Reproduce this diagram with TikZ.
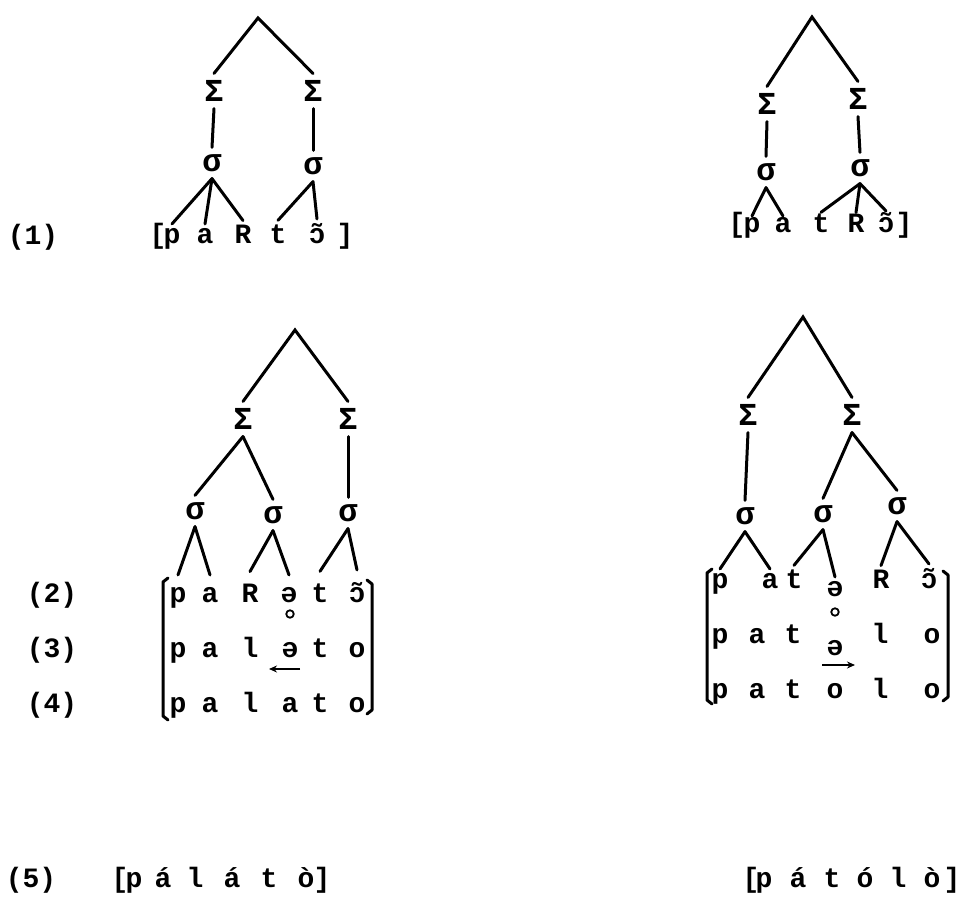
\documentclass[tikz,border=0pt]{standalone}
\usepackage{fontspec}
\usetikzlibrary{arrows.meta}
\newfontfamily\tw{Liberation Mono}
% nasal vowel: a spacing-tilde stacked over the letter (same advance in a mono font)
\newcommand\nasal[1]{\rlap{˜}#1}
\tikzset{
  ph/.style={font=\tw\bfseries\fontsize{28}{32}\selectfont, inner sep=0pt, anchor=base, outer sep=#1},
  ph/.default=8pt,
  pros/.style={font=\tw\bfseries\fontsize{32}{36}\selectfont, inner sep=0pt, outer sep=7pt},
  edge/.style={line width=3pt, line cap=round},
  brk/.style={line width=3pt, line cap=round, line join=round},
  ring/.style={circle, draw, line width=1.8pt, minimum size=7.5pt, inner sep=0pt},
  movearrow/.style={line width=1.8pt, -{Stealth[length=8pt,width=7pt]}}
}
\begin{document}
\begin{tikzpicture}[x=1pt,y=-1pt]
\useasboundingbox (0,0) rectangle (962,899);

% ---------- (1) left: p a R t on ----------
\coordinate (a0) at (258,18);
\node[pros] (aS1) at (214,91) {Σ};
\node[pros] (aS2) at (313,91) {Σ};
\node[pros] (as1) at (212,163) {σ};
\node[pros] (as2) at (313,166) {σ};
\node[ph] (l1) at (33,244) {(1)};
\node[ph=4pt] (aLB) at (158,243) {[};
\node[ph=4pt] (ap) at (172,243) {p};
\node[ph=4pt] (aa) at (205,243) {a};
\node[ph=4pt] (aR) at (243,243) {R};
\node[ph=4pt] (at) at (278,243) {t};
\node[ph=4pt] (ao) at (317,243) {\nasal{ɔ}};
\node[ph=4pt] (aRB) at (345,243) {]};
\draw[edge] (aS1.north) -- (a0) -- (aS2.north);
\draw[edge] (aS1.south) -- (as1.north);
\draw[edge] (aS2.south) -- (as2.north);
\draw[edge] (as1.south) -- (ap.north);
\draw[edge] (as1.south) -- (aa.north);
\draw[edge] (as1.south) -- (aR.north);
\draw[edge] (as2.south) -- (at.north);
\draw[edge] (as2.south) -- (ao.north);

% ---------- (1) right: p a t R on ----------
\coordinate (b0) at (812,17);
\node[pros] (bS1) at (767,104) {Σ};
\node[pros] (bS2) at (858,99) {Σ};
\node[pros] (bs1) at (766,172) {σ};
\node[pros] (bs2) at (860,168) {σ};
\node[ph=1pt] (bLB) at (737,232) {[};
\node[ph=1pt] (bp) at (752,232) {p};
\node[ph=1pt] (ba) at (783,232) {a};
\node[ph=1pt] (bt) at (821,232) {t};
\node[ph=1pt] (bR) at (856,232) {R};
\node[ph=1pt] (bo) at (886,232) {\nasal{ɔ}};
\node[ph=1pt] (bRB) at (904,232) {]};
\draw[edge] (bS1.north) -- (b0) -- (bS2.north);
\draw[edge] (bS1.south) -- (bs1.north);
\draw[edge] (bS2.south) -- (bs2.north);
\draw[edge] (bs1.south) -- (bp.north);
\draw[edge] (bs1.south) -- (ba.north);
\draw[edge] (bs2.south) -- (bt.north);
\draw[edge] (bs2.south) -- (bR.north);
\draw[edge] (bs2.south) -- (bo.north);

% ---------- (2)-(4) left ----------
\coordinate (c0) at (295,330);
\node[pros] (cS1) at (243,419) {Σ};
\node[pros] (cS2) at (348,419) {Σ};
\node[pros] (cs1) at (195,511) {σ};
\node[pros] (cs2) at (273,515) {σ};
\node[pros] (cs3) at (348,513) {σ};
\node[ph] (l2) at (52,602) {(2)};
\node[ph] (l3) at (52,657) {(3)};
\node[ph] (l4) at (52,712) {(4)};
\node[ph=12pt] (c2p) at (178,602) {p};
\node[ph=12pt] (c2a) at (210,602) {a};
\node[ph=12pt] (c2R) at (250,602) {R};
\node[ph=12pt] (c2e) at (289,602) {ə};
\node[ph=12pt] (c2t) at (320,602) {t};
\node[ph=12pt] (c2o) at (357,602) {\nasal{ɔ}};
\node[ring] (c2r) at (290,614) {};
\node[ph] (c3p) at (178,657) {p};
\node[ph] (c3a) at (210,657) {a};
\node[ph] (c3l) at (250,657) {l};
\node[ph] (c3e) at (290,657) {ə};
\node[ph] (c3t) at (320,657) {t};
\node[ph] (c3o) at (357,657) {o};
\coordinate (c3x) at (300,669);
\coordinate (c3y) at (269,669);
\node[ph] (c4p) at (178,712) {p};
\node[ph] (c4a) at (210,712) {a};
\node[ph] (c4l) at (250,712) {l};
\node[ph] (c4b) at (290,712) {a};
\node[ph] (c4t) at (320,712) {t};
\node[ph] (c4o) at (357,712) {o};
\draw[edge] (cS1.north) -- (c0) -- (cS2.north);
\draw[edge] (cS1.south) -- (cs1.north);
\draw[edge] (cS1.south) -- (cs2.north);
\draw[edge] (cS2.south) -- (cs3.north);
\draw[edge] (cs1.south) -- (c2p.north);
\draw[edge] (cs1.south) -- (c2a.north);
\draw[edge] (cs2.south) -- (c2R.north);
\draw[edge] (cs2.south) -- (c2e.north);
\draw[edge] (cs3.south) -- (c2t.north);
\draw[edge] (cs3.south) -- (c2o.north);
\draw[movearrow] (c3x) -- (c3y);
\draw[brk] (168,578) -- (163,582) -- (163,716) -- (168,720);
\draw[brk] (367,580) -- (372,584) -- (372,710) -- (367,714);

% ---------- (2)-(4) right ----------
\coordinate (d0) at (803,317);
\node[pros] (dS1) at (748,415) {Σ};
\node[pros] (dS2) at (852,415) {Σ};
\node[pros] (ds1) at (745,516) {σ};
\node[pros] (ds2) at (823,514) {σ};
\node[pros] (ds3) at (897,506) {σ};
\node[ph=4pt] (d2p) at (720,588) {p};
\node[ph=4pt] (d2a) at (770,588) {a};
\node[ph=4pt] (d2t) at (794,588) {t};
\node[ph=4pt] (d2e) at (835,596) {ə};
\node[ph=4pt] (d2R) at (881,588) {R};
\node[ph=4pt] (d2o) at (929,588) {\nasal{ɔ}};
\node[ring] (d2r) at (835,612) {};
\node[ph] (d3p) at (720,643) {p};
\node[ph] (d3a) at (757,643) {a};
\node[ph] (d3t) at (793,643) {t};
\node[ph] (d3e) at (835,655) {ə};
\node[ph] (d3l) at (880,643) {l};
\node[ph] (d3o) at (932,643) {o};
\coordinate (d3x) at (822,665);
\coordinate (d3y) at (855,665);
\node[ph] (d4p) at (720,698) {p};
\node[ph] (d4a) at (757,698) {a};
\node[ph] (d4t) at (793,698) {t};
\node[ph] (d4b) at (835,698) {o};
\node[ph] (d4l) at (880,698) {l};
\node[ph] (d4o) at (932,698) {o};
\draw[edge] (dS1.north) -- (d0) -- (dS2.north);
\draw[edge] (dS1.south) -- (ds1.north);
\draw[edge] (dS2.south) -- (ds2.north);
\draw[edge] (dS2.south) -- (ds3.north);
\draw[edge] (ds1.south) -- (d2p.north);
\draw[edge] (ds1.south) -- (d2a.north);
\draw[edge] (ds2.south) -- (d2t.north);
\draw[edge] (ds2.south) -- (d2e.north);
\draw[edge] (ds3.south) -- (d2R.north);
\draw[edge] (ds3.south) -- (d2o.north);
\draw[movearrow] (d3x) -- (d3y);
\draw[brk] (712,569) -- (707,573) -- (707,700) -- (712,704);
\draw[brk] (943,571) -- (948,575) -- (948,697) -- (943,701);

% ---------- (5) ----------
\node[ph] (l5) at (31,887) {(5)};
\node[ph] (eLB) at (120,887) {[};
\node[ph] (ep) at (134,887) {p};
\node[ph] (ea) at (163,887) {á};
\node[ph] (el) at (195,887) {l};
\node[ph] (eb) at (232,887) {á};
\node[ph] (et) at (269,887) {t};
\node[ph] (eo) at (306,887) {ò};
\node[ph] (eRB) at (322,887) {]};
\node[ph] (fLB) at (751,887) {[};
\node[ph] (fp) at (764,887) {p};
\node[ph] (fa) at (798,887) {á};
\node[ph] (ft) at (832,887) {t};
\node[ph] (fo) at (865,887) {ó};
\node[ph] (fl) at (898,887) {l};
\node[ph] (fb) at (932,887) {ò};
\node[ph] (fRB) at (952,887) {]};
\end{tikzpicture}
\end{document}
